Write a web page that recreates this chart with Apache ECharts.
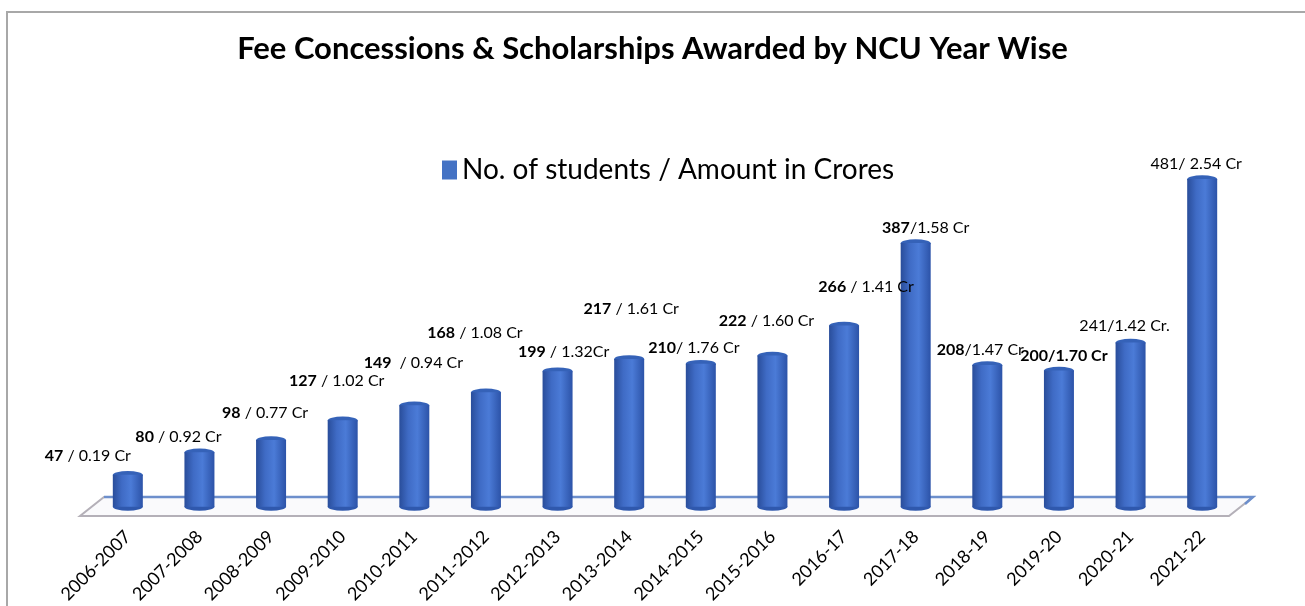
<!DOCTYPE html>
<html>
<head>
<meta charset="utf-8">
<script src="https://cdn.jsdelivr.net/npm/echarts@6/dist/echarts.min.js"></script>
<style>
  html, body { margin: 0; padding: 0; background: #fff; }
  #chart { width: 1305px; height: 606px; }
</style>
</head>
<body>
<div id="chart"></div>
<script>
// Data
const years = ["2006-2007", "2007-2008", "2008-2009", "2009-2010", "2010-2011", "2011-2012",
  "2012-2013", "2013-2014", "2014-2015", "2015-2016", "2016-17", "2017-18",
  "2018-19", "2019-20", "2020-21", "2021-22"];
const students = [47, 80, 98, 127, 149, 168, 199, 217, 210, 222, 266, 387, 208, 200, 241, 481];
const studentText = ["47", "80", "98", "127", "149 ", "168", "199", "217", "210", "222", "266", "387", "208", "200", "241", "481"];
const amountText = [" / 0.19 Cr", " / 0.92 Cr", " / 0.77 Cr", " / 1.02 Cr", " / 0.94 Cr", " / 1.08 Cr",
  " / 1.32Cr", " / 1.61 Cr", "/ 1.76 Cr", " / 1.60 Cr", " / 1.41 Cr", "/1.58 Cr",
  "/1.47 Cr", "/1.70 Cr", "/1.42 Cr.", "/ 2.54 Cr"];

// label styling: which parts are bold, and where each label sits relative to its bar
const numStyle = ["b", "b", "b", "b", "b", "b", "b", "b", "b", "b", "b", "b", "b", "b", "n", "n"];
const amtStyle = ["n", "n", "n", "n", "n", "n", "n", "n", "n", "n", "n", "n", "n", "b", "n", "n"];
const labelOffsets = [[-40, -9], [-21, -6], [-6, -18], [-6, -30], [-1, -33], [-11, -50],
  [6, -10], [2, -41], [-7, -6], [-6, -25], [22, -29], [10, -6],
  [-7, -6], [5, -5], [-6, -7], [-6, -6]];

const FONT = "Lato, 'Open Sans', sans-serif";

let chart = echarts.init(document.getElementById("chart"));

let option = {
  backgroundColor: "#fff",
  animation: false,
  title: {
    text: "Fee Concessions & Scholarships Awarded by NCU Year Wise",
    left: "center",
    top: 28,
    textStyle: { fontFamily: FONT, fontWeight: "bold", fontSize: 31, color: "#000" },
  },
  legend: {
    top: 151,
    left: 437,
    icon: "rect",
    itemWidth: 15,
    itemHeight: 19,
    itemGap: 8,
    data: [{ name: "No. of students / Amount in Crores", itemStyle: { color: "#4472c4" } }],
    textStyle: { fontFamily: FONT, fontSize: 28, color: "#000" },
  },
  grid: { left: 92, right: 67, top: 98, bottom: 99 },
  xAxis: {
    type: "category",
    data: years,
    axisLine: { show: false },
    axisTick: { show: false },
    axisLabel: {
      rotate: 45,
      margin: 27,
      fontFamily: FONT,
      fontSize: 18,
      color: "#000",
    },
  },
  yAxis: {
    type: "value",
    min: 0,
    max: 600,
    show: false,
  },
  graphic: [
    // outer frame
    {
      type: "polyline",
      shape: { points: [[7, 620], [7, 12], [1320, 12]] },
      style: { stroke: "#a8a8a8", lineWidth: 2, fill: null },
      silent: true,
    },
    // floor of the 3D plot
    {
      type: "polygon",
      shape: { points: [[104, 497], [1253, 497], [1229, 516], [80, 516]] },
      style: { fill: "rgba(230,232,240,0.2)", stroke: "#b4b0b8", lineWidth: 2 },
      silent: true,
      z: 0,
    },
    {
      type: "polyline",
      shape: { points: [[104, 497], [1253, 497], [1245, 504]] },
      style: { stroke: "#6d8fcc", lineWidth: 2.5, fill: null },
      silent: true,
      z: 0,
    },
  ],
  series: [
    {
      name: "No. of students / Amount in Crores",
      type: "bar",
      barWidth: 30,
      z: 3,
      data: students,
      itemStyle: {
        color: new echarts.graphic.LinearGradient(0, 0, 1, 0, [
          { offset: 0, color: "#294d9a" },
          { offset: 0.3, color: "#3f6bc5" },
          { offset: 0.6, color: "#4b7bd7" },
          { offset: 1, color: "#2c53a8" },
        ]),
      },
      label: {
        show: true,
        position: "top",
        distance: 0,
        fontFamily: FONT,
        fontSize: 16,
        color: "#000",
        formatter: (p) => {
          let i = p.dataIndex;
          return "{" + numStyle[i] + "|" + studentText[i] + "}{" + amtStyle[i] + "|" + amountText[i] + "}";
        },
        rich: {
          b: { fontFamily: FONT, fontSize: 16, fontWeight: "bold", color: "#000", lineHeight: 19 },
          n: { fontFamily: FONT, fontSize: 16, color: "#000", lineHeight: 19 },
        },
      },
      labelLayout: (params) => ({
        dx: labelOffsets[params.dataIndex][0],
        dy: labelOffsets[params.dataIndex][1],
        hideOverlap: false,
      }),
    },
    {
      // top cap of each cylinder
      name: "cap",
      type: "pictorialBar",
      symbol: "circle",
      symbolSize: [30, 8],
      symbolPosition: "end",
      symbolOffset: [0, "-50%"],
      z: 2,
      itemStyle: { color: "#3562b8", borderColor: "#5a84d4", borderWidth: 1 },
      data: students,
      tooltip: { show: false },
    },
    {
      // bottom of each cylinder
      name: "base",
      type: "pictorialBar",
      symbol: "circle",
      symbolSize: [30, 8],
      symbolPosition: "start",
      symbolOffset: [0, "50%"],
      z: 2,
      itemStyle: { color: "#2f58ad" },
      data: students,
      tooltip: { show: false },
    },
  ],
};

chart.setOption(option);
</script>
</body>
</html>
